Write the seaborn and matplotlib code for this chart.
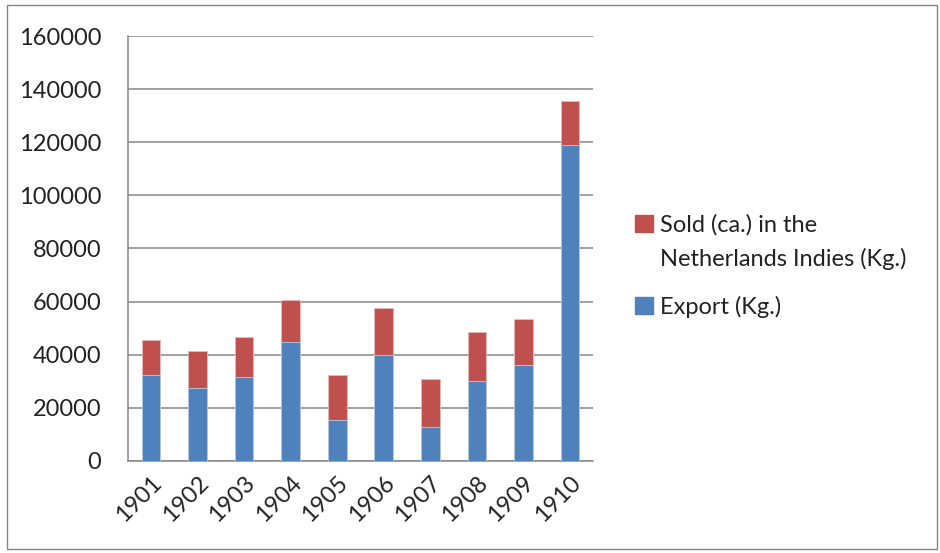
import numpy as np
import pandas as pd
import seaborn as sns
import matplotlib.pyplot as plt
from matplotlib.patches import Rectangle, Patch

# valores
years = ["1901", "1902", "1903", "1904", "1905", "1906", "1907", "1908", "1909", "1910"]
export_kg = [32500, 27600, 31700, 44800, 15600, 39800, 12700, 30000, 36000, 118900]
sold_kg = [13000, 13900, 15100, 15900, 16900, 17800, 18300, 18700, 17300, 16800]
y_ticks = [0, 20000, 40000, 60000, 80000, 100000, 120000, 140000, 160000]

blue = "#4F81BD"
red = "#C0504D"
grey = "#868686"
txt = "#222222"
fs = 17

df = pd.DataFrame({"year": years, "export": export_kg, "sold": sold_kg})
df["total"] = df["export"] + df["sold"]

sns.set_style("white")
plt.rcParams["font.family"] = ["Lato", "DejaVu Sans"]

fig = plt.figure(figsize=(9.4, 5.53), dpi=100)
ax = fig.add_axes([0.136, 0.1664, 0.495, 0.7685])

# barras empilhadas: total em vermelho, exportação em azul por cima
sns.barplot(data=df, x="year", y="total", color=red, width=0.4, saturation=1,
            linewidth=0.6, edgecolor="#E6B9B8", ax=ax, zorder=3)
sns.barplot(data=df, x="year", y="export", color=blue, width=0.4, saturation=1,
            linewidth=0.6, edgecolor="#B9CDE5", ax=ax, zorder=4)

ax.set_xlim(-0.5, len(years) - 0.5)
ax.set_ylim(0, 160000)
ax.set_yticks(y_ticks)
ax.set_yticklabels([str(v) for v in y_ticks], fontsize=fs, color=txt)
ax.yaxis.grid(True, color=grey, linewidth=1.1, zorder=0)
ax.set_axisbelow(True)

ax.set_xticks(np.arange(len(years)))
ax.set_xticklabels(years, rotation=45, ha="right", rotation_mode="anchor", fontsize=fs, color=txt)
ax.tick_params(axis="x", length=0, pad=8)
ax.set_xticks(np.arange(-0.5, len(years)), minor=True)
ax.tick_params(axis="x", which="minor", length=6, width=1.1, color=grey)
ax.tick_params(axis="y", length=7, width=1.1, color=grey, pad=12)

ax.set_xlabel("")
ax.set_ylabel("")
for s in ["top", "right"]:
    ax.spines[s].set_visible(False)
for s in ["left", "bottom"]:
    ax.spines[s].set_color(grey)
    ax.spines[s].set_linewidth(1.1)

# legenda em duas partes (o quadrado fica alinhado com a primeira linha)
blank = Patch(facecolor="none", edgecolor="none")
leg1 = fig.legend([Patch(color=red), blank], ["Sold (ca.) in the", "Netherlands Indies (Kg.)"],
                  loc="upper left", bbox_to_anchor=(0.653, 0.651), frameon=False, fontsize=fs,
                  handlelength=0.75, handleheight=0.75, handletextpad=0.3, labelspacing=0.5)
leg2 = fig.legend([Patch(color=blue)], ["Export (Kg.)"],
                  loc="upper left", bbox_to_anchor=(0.653, 0.504), frameon=False, fontsize=fs,
                  handlelength=0.75, handleheight=0.75, handletextpad=0.3)
for lg in (leg1, leg2):
    for t in lg.get_texts():
        t.set_color(txt)

# moldura externa
fig.patches.append(Rectangle((0.007, 0.008), 0.99, 0.983, transform=fig.transFigure,
                             fill=False, edgecolor=grey, linewidth=1.0))

plt.savefig("out.png", dpi=100)
